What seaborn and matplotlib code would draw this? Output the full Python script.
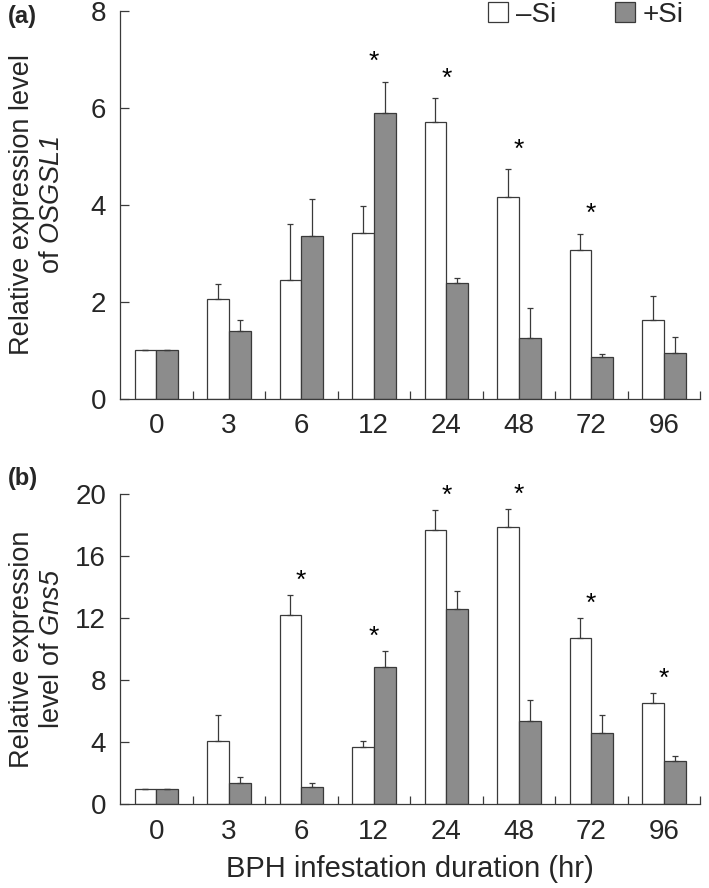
import numpy as np
import pandas as pd
import matplotlib
matplotlib.use("Agg")
import matplotlib.pyplot as plt
import seaborn as sns
from matplotlib.patches import Patch
from matplotlib.ticker import FixedLocator

# ---------------- data ----------------
times = ["0", "3", "6", "12", "24", "48", "72", "96"]
treatments = ["–Si", "+Si"]

a_minus = [1.0, 2.06, 2.45, 3.43, 5.70, 4.16, 3.07, 1.63]
a_minus_err = [0.0, 0.31, 1.15, 0.54, 0.50, 0.57, 0.33, 0.50]
a_plus = [1.0, 1.41, 3.35, 5.89, 2.40, 1.25, 0.87, 0.95]
a_plus_err = [0.0, 0.21, 0.77, 0.65, 0.09, 0.62, 0.06, 0.33]
a_sig = ["12", "24", "48", "72"]
a_yticks = [0, 2, 4, 6, 8]

b_minus = [1.0, 4.04, 12.22, 3.65, 17.66, 17.85, 10.72, 6.51]
b_minus_err = [0.0, 1.70, 1.25, 0.39, 1.29, 1.16, 1.25, 0.64]
b_plus = [1.0, 1.37, 1.12, 8.85, 12.57, 5.33, 4.58, 2.79]
b_plus_err = [0.0, 0.35, 0.21, 0.99, 1.20, 1.39, 1.16, 0.28]
b_sig = ["6", "12", "24", "48", "72", "96"]
b_yticks = [0, 4, 8, 12, 16, 20]

# ---------------- style ----------------
sns.set_style("ticks")
plt.rcParams["font.family"] = ["Liberation Sans", "DejaVu Sans"]
plt.rcParams["mathtext.fontset"] = "custom"
plt.rcParams["mathtext.rm"] = "Liberation Sans"
plt.rcParams["mathtext.it"] = "Liberation Sans:italic"
plt.rcParams["mathtext.sf"] = "Liberation Sans:italic"

EDGE = "#3a3a3a"
GRAY = "#8c8c8c"
FS_TICK = 20
FS_LAB = 19.5
FS_XLAB = 21
FS_STAR = 19

W, H = 709, 888
fig = plt.figure(figsize=(W / 100, H / 100), dpi=100)


def fx(px):
    return px / W


def fy(py):
    return 1 - py / H


ax_a = fig.add_axes([fx(120), fy(399), fx(700) - fx(120), fy(10.7) - fy(399)])
ax_b = fig.add_axes([fx(120), fy(804), fx(700) - fx(120), fy(494) - fy(804)])


def draw_panel(ax, minus, minus_err, plus, plus_err, sig, yticks, ylabel, xpad):
    df = pd.DataFrame({
        "time": times * 2,
        "treatment": [t for t in treatments for _ in times],
        "value": minus + plus,
    })
    sns.barplot(data=df, x="time", y="value", hue="treatment", order=times,
                hue_order=treatments, palette=["white", GRAY], edgecolor=EDGE,
                linewidth=0.9, width=0.6, errorbar=None, legend=False,
                saturation=1, ax=ax)
    for cont, errs in zip(ax.containers, [minus_err, plus_err]):
        xs = [p.get_x() + p.get_width() / 2 for p in cont]
        hs = [p.get_height() for p in cont]
        ax.errorbar(xs, hs, yerr=[np.zeros(len(errs)), errs], fmt="none",
                    ecolor=EDGE, elinewidth=0.9, capsize=2.5, capthick=0.9,
                    zorder=3)
    ymax = yticks[-1]
    for t in sig:
        i = times.index(t)
        top = max(minus[i] + minus_err[i], plus[i] + plus_err[i])
        ax.annotate("*", xy=(i, top + 0.07 * ymax), xytext=(0, -0.55 * FS_STAR),
                    textcoords="offset points", ha="center", va="baseline",
                    fontsize=FS_STAR, color="black", annotation_clip=False)
    ax.set_xlim(-0.5, len(times) - 0.5)
    ax.set_ylim(0, ymax)
    ax.set_yticks(yticks)
    ax.set_xticks(range(len(times)))
    ax.set_xticklabels(times)
    ax.xaxis.set_minor_locator(FixedLocator(np.arange(0.5, len(times), 1.0)))
    for s in ["top", "right"]:
        ax.spines[s].set_visible(False)
    for s in ["left", "bottom"]:
        ax.spines[s].set_color(EDGE)
        ax.spines[s].set_linewidth(0.9)
    ax.tick_params(axis="y", direction="in", length=6.5, width=0.9, pad=10,
                   labelsize=FS_TICK, color=EDGE)
    ax.tick_params(axis="x", which="major", length=0, pad=xpad, labelsize=FS_TICK)
    ax.tick_params(axis="x", which="minor", direction="in", length=6,
                   width=0.9, color=EDGE)
    ax.set_ylabel(ylabel, fontsize=FS_LAB)
    ax.yaxis.set_label_coords(-0.095, 0.5)
    ax.set_xlabel("")


draw_panel(ax_a, a_minus, a_minus_err, a_plus, a_plus_err, a_sig, a_yticks,
           "Relative expression level\nof $\\mathsf{OSGSL1}$", 10)
draw_panel(ax_b, b_minus, b_minus_err, b_plus, b_plus_err, b_sig, b_yticks,
           "Relative expression\nlevel of $\\mathsf{Gns5}$", 11)
ax_b.set_xlabel("BPH infestation duration (hr)", fontsize=FS_XLAB)
ax_b.xaxis.set_label_coords(0.5, -0.165)

handles = [Patch(facecolor="white", edgecolor=EDGE, linewidth=0.9),
           Patch(facecolor=GRAY, edgecolor=EDGE, linewidth=0.9)]
fig.legend(handles, treatments, loc="center right",
           bbox_to_anchor=(fx(684), fy(15)), bbox_transform=fig.transFigure,
           ncol=2, frameon=False, fontsize=FS_TICK, handlelength=0.72,
           handleheight=0.72, handletextpad=0.3, columnspacing=2.1,
           borderpad=0, borderaxespad=0)

fig.text(fx(8), fy(17), "(a)", fontsize=17, fontweight="bold", ha="left", va="center")
fig.text(fx(8), fy(478), "(b)", fontsize=17, fontweight="bold", ha="left", va="center")

fig.savefig("out.png", dpi=100)
